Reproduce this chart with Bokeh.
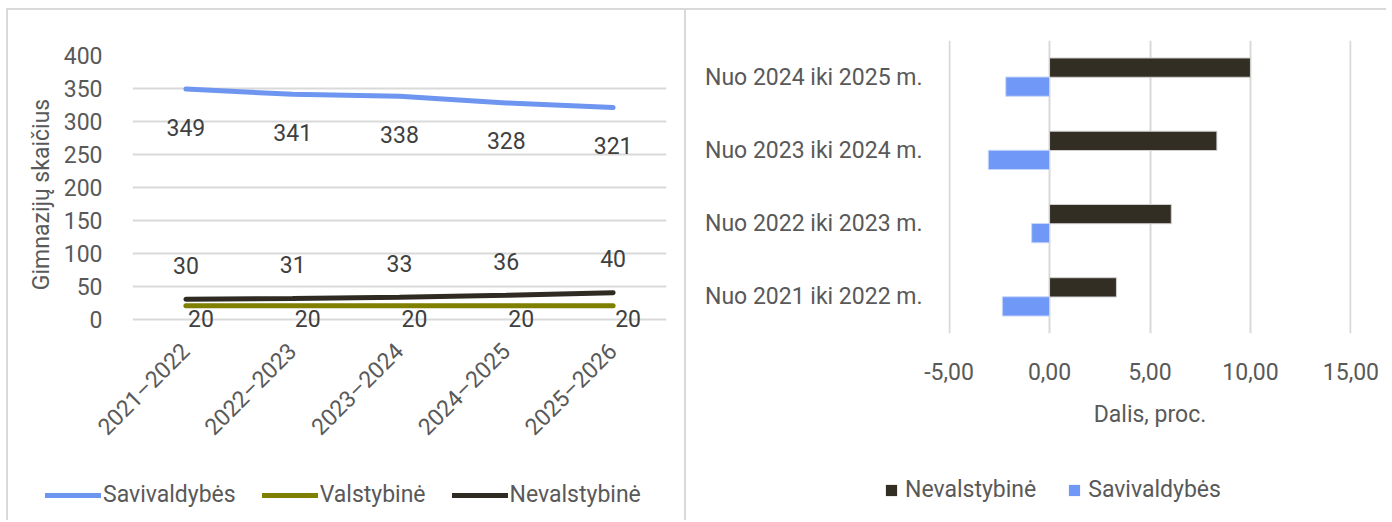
import math
from bokeh.plotting import figure
from bokeh.layouts import row, column
from bokeh.models import (ColumnDataSource, FactorRange, Range1d, FixedTicker,
                          CustomJSTickFormatter, Legend, LegendItem, Spacer)
from bokeh.transform import dodge
from bokeh.core.properties import value
from bokeh.embed import file_html
from bokeh.resources import INLINE

# ---------------- data ----------------
years = ["2021–2022", "2022–2023", "2023–2024", "2024–2025", "2025–2026"]
savivaldybes = [349, 341, 338, 328, 321]
valstybine = [20, 20, 20, 20, 20]
nevalstybine = [30, 31, 33, 36, 40]
y_ticks = [0, 50, 100, 150, 200, 250, 300, 350, 400]

periods = ["Nuo 2021 iki 2022 m.", "Nuo 2022 iki 2023 m.",
           "Nuo 2023 iki 2024 m.", "Nuo 2024 iki 2025 m."]
nev_change = [3.33, 6.06, 8.33, 10.00]
sav_change = [-2.35, -0.89, -3.05, -2.18]
x_ticks = [-5, 0, 5, 10, 15]

# ---------------- styles ----------------
FONT = "Roboto"
FS = "23px"
TXT = "#595959"
LBL = "#404040"
GRID = "#d9d9d9"
C_SAV_LINE = "#6E96F0"
C_VAL = "#7F7F00"
C_NEV = "#2F2B23"
C_SAV_BAR = "#7098F6"
C_NEV_BAR = "#332E24"
BORDER = {"border-left": "2px solid #d9d9d9", "border-top": "2px solid #d9d9d9"}


def style_axes(p):
    for ax in (p.xaxis[0], p.yaxis[0]):
        ax.axis_line_color = None
        ax.major_tick_line_color = None
        ax.minor_tick_line_color = None
        ax.major_label_text_font = FONT
        ax.major_label_text_font_size = FS
        ax.major_label_text_color = TXT
        ax.axis_label_text_font = FONT
        ax.axis_label_text_font_size = FS
        ax.axis_label_text_color = TXT
        ax.axis_label_text_font_style = "normal"


def legend_fig(width, height):
    f = figure(width=width, height=height, x_range=Range1d(0, 1), y_range=Range1d(0, 1),
               x_axis_type=None, y_axis_type=None, output_backend="svg",
               toolbar_location=None, min_border=0)
    f.outline_line_color = None
    f.xgrid.visible = False
    f.ygrid.visible = False
    return f


# ---------------- left: line chart ----------------
src = ColumnDataSource(dict(x=years, sav=savivaldybes, val=valstybine, nev=nevalstybine,
                            sav_t=[str(v) for v in savivaldybes],
                            val_t=[str(v) for v in valstybine],
                            nev_t=[str(v) for v in nevalstybine]))

p1 = figure(width=676, height=466, x_range=FactorRange(*years, range_padding=0),
            y_range=Range1d(-22, 400), output_backend="svg", toolbar_location=None,
            min_border_left=124, min_border_right=18, min_border_top=45,
            min_border_bottom=143)
p1.outline_line_color = None

p1.line("x", "sav", source=src, color=C_SAV_LINE, line_width=5, line_cap="round")
p1.line("x", "val", source=src, color=C_VAL, line_width=5, line_cap="round")
p1.line("x", "nev", source=src, color=C_NEV, line_width=5, line_cap="round")

common_txt = dict(text_font=value(FONT), text_font_size=FS, text_color=LBL,
                  text_align="center", text_baseline="middle")
p1.text("x", "sav", text="sav_t", source=src, y_offset=38, **common_txt)
p1.text("x", "nev", text="nev_t", source=src, y_offset=-34, **common_txt)
p1.text("x", "val", text="val_t", source=src, y_offset=13, x_offset=15, **common_txt)

p1.yaxis.ticker = FixedTicker(ticks=y_ticks)
p1.ygrid.ticker = FixedTicker(ticks=y_ticks)
p1.xgrid.grid_line_color = None
p1.ygrid.grid_line_color = GRID
p1.ygrid.grid_line_width = 2
p1.yaxis.axis_label = "Gimnazijų skaičius"
style_axes(p1)
p1.yaxis.major_label_standoff = 24
p1.yaxis.axis_label_standoff = 6
p1.xaxis.major_label_orientation = math.pi / 4
p1.xaxis.major_label_standoff = 8

l1 = legend_fig(676, 44)
hid = dict(x=[5, 6], y=[5, 6])  # outside the legend figure's range: only the legend shows
lr_sav = l1.line(color=C_SAV_LINE, line_width=5, line_cap="round", **hid)
lr_val = l1.line(color=C_VAL, line_width=5, line_cap="round", **hid)
lr_nev = l1.line(color=C_NEV, line_width=5, line_cap="round", **hid)
leg1 = Legend(items=[LegendItem(label="Savivaldybės", renderers=[lr_sav]),
                     LegendItem(label="Valstybinė", renderers=[lr_val]),
                     LegendItem(label="Nevalstybinė", renderers=[lr_nev])],
              orientation="horizontal", location=(37, 12),
              label_text_font=FONT, label_text_font_size=FS, label_text_color=TXT,
              glyph_width=56, glyph_height=22, label_standoff=2, spacing=26,
              padding=0, margin=0, border_line_color=None, background_fill_alpha=0)
l1.add_layout(leg1, "center")

# ---------------- right: bar chart ----------------
src2 = ColumnDataSource(dict(y=periods, nev=nev_change, sav=sav_change))
p2 = figure(width=700, height=466, y_range=FactorRange(*periods, range_padding=0),
            x_range=Range1d(-5.03, 15.03), output_backend="svg", toolbar_location=None,
            min_border_left=262, min_border_right=35, min_border_top=30,
            min_border_bottom=143)
p2.outline_line_color = None

p2.hbar(y=dodge("y", 0.13, range=p2.y_range), left=0, right="nev", height=0.263,
        source=src2, fill_color=C_NEV_BAR, line_color="#d0d0d0", line_width=1)
p2.hbar(y=dodge("y", -0.13, range=p2.y_range), left=0, right="sav", height=0.263,
        source=src2, fill_color=C_SAV_BAR, line_color="#c8d6fa", line_width=1)

p2.xaxis.ticker = FixedTicker(ticks=x_ticks)
p2.xgrid.ticker = FixedTicker(ticks=x_ticks)
p2.xaxis.formatter = CustomJSTickFormatter(code="return tick.toFixed(2).replace('.', ',');")
p2.ygrid.grid_line_color = None
p2.xgrid.grid_line_color = GRID
p2.xgrid.grid_line_width = 2
p2.xaxis.axis_label = "Dalis, proc."
style_axes(p2)
p2.yaxis.major_label_standoff = 20
p2.xaxis.major_label_standoff = 23
p2.xaxis.axis_label_standoff = 18

l2 = legend_fig(700, 44)
lb_nev = l2.rect(width=1, height=1, fill_color=C_NEV_BAR, line_color=None, **hid)
lb_sav = l2.rect(width=1, height=1, fill_color=C_SAV_BAR, line_color=None, **hid)
leg2 = Legend(items=[LegendItem(label="Nevalstybinė", renderers=[lb_nev]),
                     LegendItem(label="Savivaldybės", renderers=[lb_sav])],
              orientation="horizontal", location=(198, 17),
              label_text_font=FONT, label_text_font_size=FS, label_text_color=TXT,
              glyph_width=14, glyph_height=14, label_standoff=7, spacing=31,
              padding=0, margin=0, border_line_color=None, background_fill_alpha=0)
l2.add_layout(leg2, "center")

left = column(p1, row(l1), styles=BORDER)
right = column(p2, row(l2), styles=BORDER)
layout = column(Spacer(height=8), row(Spacer(width=6), left, right))
open("out.html", "w").write(file_html(layout, INLINE))
